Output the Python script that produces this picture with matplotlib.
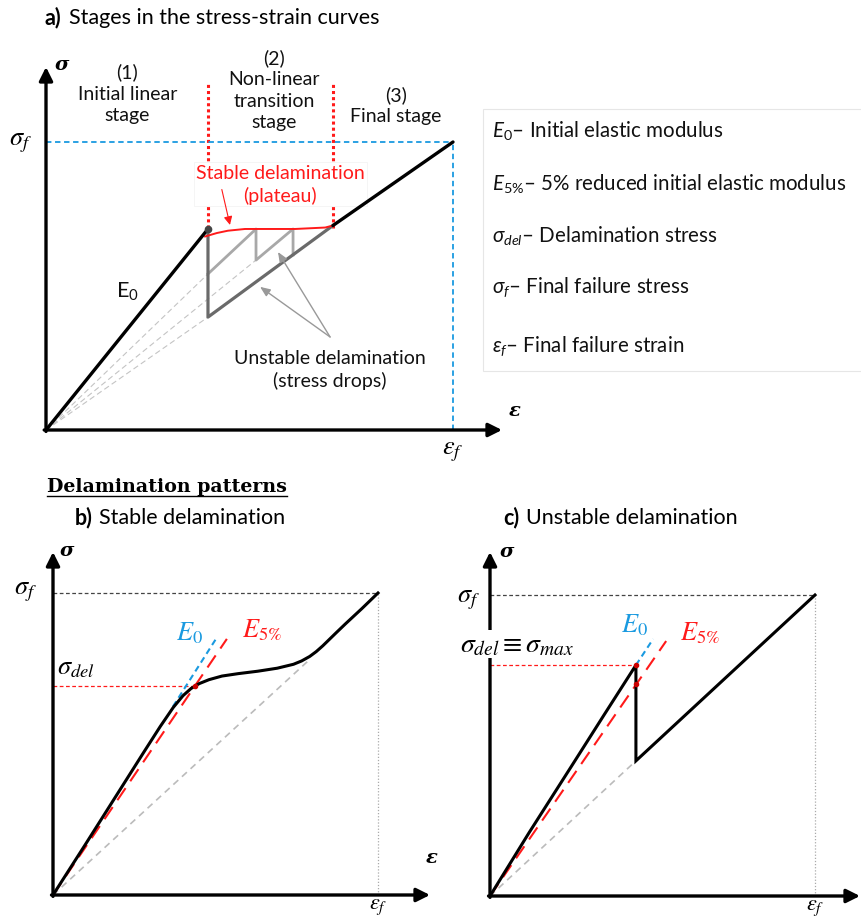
import matplotlib
matplotlib.use('Agg')
import matplotlib.pyplot as plt
from matplotlib.patches import Rectangle
from matplotlib.lines import Line2D

plt.rcParams['font.family'] = ['Lato', 'DejaVu Sans']
plt.rcParams['mathtext.fontset'] = 'custom'
plt.rcParams['mathtext.it'] = 'Lato:italic'
plt.rcParams['mathtext.rm'] = 'Lato'
plt.rcParams['mathtext.bf'] = 'Lato:bold'

# ---- data (strain / stress normalised by the failure point) ----
# a) stages
a_load_x = [0, 0.398]
a_load_y = [0, 0.698]
a_final_x = [0.705, 1.0]
a_final_y = [0.710, 1.0]
a_plateau_x = [0.391, 0.42, 0.447, 0.489, 0.612, 0.686, 0.705]
a_plateau_y = [0.672, 0.684, 0.692, 0.698, 0.698, 0.703, 0.710]
a_drop_x = [0.398, 0.398, 0.705]
a_drop_y = [0.698, 0.392, 0.710]
a_saw_x = [0.398, 0.516, 0.516, 0.607, 0.607]
a_saw_y = [0.542, 0.698, 0.590, 0.698, 0.608]
a_secant_x = [0.398, 0.516, 0.398]
a_secant_y = [0.392, 0.590, 0.542]
a_bounds = [0.398, 0.705]

# b) stable delamination
b_curve_x = [0, 0.10, 0.20, 0.28, 0.33, 0.37, 0.40, 0.425, 0.45, 0.48, 0.52, 0.57,
             0.63, 0.69, 0.74, 0.765, 0.79, 0.81, 0.83, 0.85, 0.87, 0.90, 0.95, 1.0]
b_curve_y = [0, 0.168, 0.338, 0.474, 0.558, 0.621, 0.660, 0.684, 0.700, 0.713, 0.725,
             0.733, 0.741, 0.751, 0.764, 0.775, 0.790, 0.806, 0.825, 0.846, 0.867,
             0.898, 0.948, 1.0]
b_del = (0.437, 0.692)
b_e0 = ([0.369, 0.505], [0.624, 0.854])
b_e5 = ([0, 0.535], [0, 0.848])
b_secant = ([0, 0.791], [0, 0.781])

# c) unstable delamination
c_curve_x = [0, 0.12, 0.25, 0.35, 0.449, 0.449, 1.0]
c_curve_y = [0, 0.21, 0.43, 0.60, 0.767, 0.449, 1.0]
c_del = (0.449, 0.767)
c_e5_hit = (0.449, 0.703)
c_e0 = ([0.449, 0.502], [0.767, 0.854])
c_e5 = ([0, 0.542], [0, 0.847])
c_secant = ([0, 0.449], [0, 0.449])

legend_sym = [r'$E_0$', r'$E_{5\%}$', r'$\sigma_{del}$', r'$\sigma_f$', r'$\varepsilon_f$']
legend_txt = ['Initial elastic modulus', '5% reduced initial elastic modulus',
              'Delamination stress', 'Final failure stress', 'Final failure strain']

W, H = 862, 920
fig = plt.figure(figsize=(W / 100, H / 100), dpi=100)
fig.patch.set_facecolor('white')

RED = '#ff1a1a'
BLUE = '#1a9ae0'
TXT = '#111111'
serif_b = dict(family='DejaVu Serif', weight='bold', style='italic', fontsize=14)
BODY = 14
TITLE = 15.5
LEG = 14.8
MATH = 19
LS = 1.32


def fx(px):
    return px / W


def fy(py):
    return 1 - py / H


def panel(ox, oy, ux, uy, xend, ytop):
    ax = fig.add_axes([fx(ox), fy(oy), (xend - ox) / W, (oy - ytop) / H])
    ax.set_xlim(0, (xend - ox) / ux)
    ax.set_ylim(0, (oy - ytop) / uy)
    ax.axis('off')
    ap = dict(arrowstyle='-|>,head_length=0.9,head_width=0.45', lw=2.4, color='k',
              shrinkA=0, shrinkB=0, mutation_scale=9)
    ax.annotate('', xy=(1, 0), xytext=(-0.004, 0), xycoords='axes fraction',
                textcoords='axes fraction', arrowprops=ap)
    ax.annotate('', xy=(0, 1), xytext=(0, -0.004), xycoords='axes fraction',
                textcoords='axes fraction', arrowprops=ap)
    return ax


# ================= a) =================
ax = panel(46, 431, 407, 288, 502, 68)
ax.plot([0, 1], [1, 1], ls=(0, (3, 2)), color=BLUE, lw=1.3, clip_on=False)
ax.plot([1, 1], [0, 1], ls=(0, (3, 2)), color=BLUE, lw=1.3, clip_on=False)
for xb in a_bounds:
    ax.plot([xb, xb], [0.70, 1.20], ls=(0, (1, 1)), color=RED, lw=2.2, clip_on=False,
            zorder=0.5)
for sx, sy in zip(a_secant_x, a_secant_y):
    ax.plot([0, sx], [0, sy], ls=(0, (5, 3)), color='#c4c4c4', lw=0.8)
ax.plot(a_saw_x, a_saw_y, color='#a8a8a8', lw=2.0)
ax.plot(a_drop_x, a_drop_y, color='#6a6a6a', lw=2.3)
ax.plot(a_plateau_x, a_plateau_y, color=RED, lw=1.4, solid_joinstyle='round')
ax.plot(a_load_x, a_load_y, color='k', lw=2.4, solid_capstyle='round')
ax.plot(a_final_x, a_final_y, color='k', lw=2.4, solid_capstyle='round')
ax.plot([a_load_x[1]], [a_load_y[1]], 'o', color='#444444', ms=4.5)

ax.text(0.2, 1.17, '(1)\nInitial linear\nstage', ha='center', va='center',
        fontsize=BODY, linespacing=LS, color=TXT)
ax.text(0.56, 1.184, '(2)\nNon-linear\ntransition\nstage', ha='center', va='center',
        fontsize=BODY, linespacing=LS, color=TXT)
ax.text(0.86, 1.13, '(3)\nFinal stage', ha='center', va='center',
        fontsize=BODY, linespacing=LS, color=TXT)
ax.text(0.575, 0.854, 'Stable delamination\n(plateau)', ha='center', va='center',
        fontsize=BODY, linespacing=LS, color=RED, zorder=1,
        bbox=dict(fc='white', ec='#f2f2f2', lw=0.5, pad=1.5))
ax.text(0.698, 0.212, 'Unstable delamination\n(stress drops)', ha='center', va='center',
        fontsize=BODY, linespacing=LS, color=TXT)
ax.annotate('', xy=(0.452, 0.712), xytext=(0.432, 0.835),
            arrowprops=dict(arrowstyle='-|>,head_length=0.5,head_width=0.25',
                            color=RED, lw=0.8, shrinkA=0, shrinkB=0, mutation_scale=10))
for hx, hy in [(0.570, 0.618), (0.526, 0.497)]:
    ax.annotate('', xy=(hx, hy), xytext=(0.698, 0.323),
                arrowprops=dict(arrowstyle='-|>,head_length=0.6,head_width=0.25',
                                color='#999999', lw=1.0, shrinkA=0, shrinkB=0,
                                mutation_scale=10))
ax.text(0.2, 0.483, 'E$_0$', ha='center', va='center', fontsize=15.5, color=TXT)
ax.text(-0.035, 1.0, r'$\sigma_f$', ha='right', va='center', fontsize=MATH,
        math_fontfamily='stix', clip_on=False)
ax.text(1.0, -0.07, r'$\varepsilon_f$', ha='center', va='center', fontsize=MATH,
        math_fontfamily='stix', clip_on=False)
ax.text(0.04, 1.27, 'σ', ha='center', va='center', clip_on=False, **serif_b)
ax.text(1.152, 0.07, 'ε', ha='center', va='center', clip_on=False, **serif_b)

# titles
fig.text(fx(45), fy(18), 'a)', fontsize=TITLE, weight='bold', ha='left', va='center')
fig.text(fx(69), fy(18), 'Stages in the stress-strain curves', fontsize=TITLE,
         ha='left', va='center')

# legend box
fig.add_artist(Rectangle((fx(483), fy(372)), fx(862 - 483), (372 - 110) / H,
                         transform=fig.transFigure, fc='none', ec='#e6e6e6', lw=0.8))
for i, (sym, txt) in enumerate(zip(legend_sym, legend_txt)):
    ycen = [131, 184, 236, 287, 346][i]
    fig.text(fx(492), fy(ycen), sym + '\u2013 ' + txt, fontsize=LEG, ha='left',
             va='center', color=TXT)

# ================= b) =================
fig.text(fx(47), fy(487), 'Delamination patterns', family='DejaVu Serif',
         weight='bold', fontsize=13.7, ha='left', va='center')
fig.add_artist(Line2D([fx(47), fx(287)], [fy(497), fy(497)], color='k', lw=1.0,
                      transform=fig.transFigure))
fig.text(fx(75), fy(518), 'b)', fontsize=TITLE, weight='bold', ha='left', va='center')
fig.text(fx(99), fy(518), 'Stable delamination', fontsize=TITLE, ha='left', va='center')

bx = panel(53, 896, 325, 302, 430, 553)
bx.plot([0, 1], [1, 1], ls=(0, (3, 2)), color='#444444', lw=0.9)
bx.plot([1, 1], [0, 1], ls=(0, (1, 1.5)), color='#aaaaaa', lw=0.9)
bx.plot([0, b_del[0]], [b_del[1], b_del[1]], ls=(0, (3, 2)), color=RED, lw=0.9)
bx.plot(*b_secant, ls=(0, (4, 3)), color='#bbbbbb', lw=1.2)
bx.plot(*b_e0, ls=(0, (3, 2)), color=BLUE, lw=1.5)
bx.plot(*b_e5, ls=(0, (7, 4)), color=RED, lw=1.5)
bx.plot(b_curve_x, b_curve_y, color='k', lw=2.2, solid_joinstyle='round')
bx.plot(*b_del, 'o', color='#cc0000', ms=3)
bx.text(-0.05, 1.007, r'$\sigma_f$', ha='right', va='center', fontsize=MATH,
        math_fontfamily='stix', clip_on=False)
bx.text(0.013, 0.755, r'$\sigma_{del}$', ha='left', va='center', fontsize=MATH,
        math_fontfamily='stix')
bx.text(0.42, 0.871, r'$E_0$', ha='center', va='center', fontsize=MATH,
        math_fontfamily='stix', color=BLUE)
bx.text(0.643, 0.881, r'$E_{5\%}$', ha='center', va='center', fontsize=MATH,
        math_fontfamily='stix', color=RED)
bx.text(1.0, -0.036, r'$\varepsilon_f$', ha='center', va='center', fontsize=16,
        math_fontfamily='stix', clip_on=False)
bx.text(0.043, 1.142, 'σ', ha='center', va='center', clip_on=False, **serif_b)
bx.text(1.166, 0.126, 'ε', ha='center', va='center', clip_on=False, **serif_b)

# ================= c) =================
fig.text(fx(503), fy(518), 'c)', fontsize=TITLE, weight='bold', ha='left', va='center')
fig.text(fx(526), fy(518), 'Unstable delamination', fontsize=TITLE, ha='left', va='center')

cx = panel(490, 897, 325, 301, 860, 553)
cx.plot([0, 1], [1, 1], ls=(0, (3, 2)), color='#444444', lw=0.9)
cx.plot([1, 1], [0, 1], ls=(0, (1, 1.5)), color='#aaaaaa', lw=0.9)
cx.plot([0, c_del[0]], [c_del[1], c_del[1]], ls=(0, (3, 2)), color=RED, lw=0.9)
cx.plot(*c_secant, ls=(0, (4, 3)), color='#bbbbbb', lw=1.2)
cx.plot(*c_e0, ls=(0, (3, 2)), color=BLUE, lw=1.5)
cx.plot(*c_e5, ls=(0, (7, 4)), color=RED, lw=1.5)
cx.plot(c_curve_x, c_curve_y, color='k', lw=2.2, solid_joinstyle='miter')
cx.plot([c_del[0], c_e5_hit[0]], [c_del[1], c_e5_hit[1]], 'o', color='#cc0000', ms=3)
cx.text(-0.03, 0.99, r'$\sigma_f$', ha='right', va='center', fontsize=MATH,
        math_fontfamily='stix', clip_on=False)
cx.text(-0.092, 0.837, r'$\sigma_{del}\equiv\sigma_{max}$', ha='left', va='center',
        fontsize=20, math_fontfamily='stix', clip_on=False,
        bbox=dict(fc='white', ec='none', pad=1))
cx.text(0.446, 0.904, r'$E_0$', ha='center', va='center', fontsize=MATH,
        math_fontfamily='stix', color=BLUE)
cx.text(0.646, 0.877, r'$E_{5\%}$', ha='center', va='center', fontsize=MATH,
        math_fontfamily='stix', color=RED)
cx.text(1.0, -0.036, r'$\varepsilon_f$', ha='center', va='center', fontsize=16,
        math_fontfamily='stix', clip_on=False)
cx.text(0.052, 1.146, 'σ', ha='center', va='center', clip_on=False, **serif_b)

plt.savefig('out.png', dpi=100)
